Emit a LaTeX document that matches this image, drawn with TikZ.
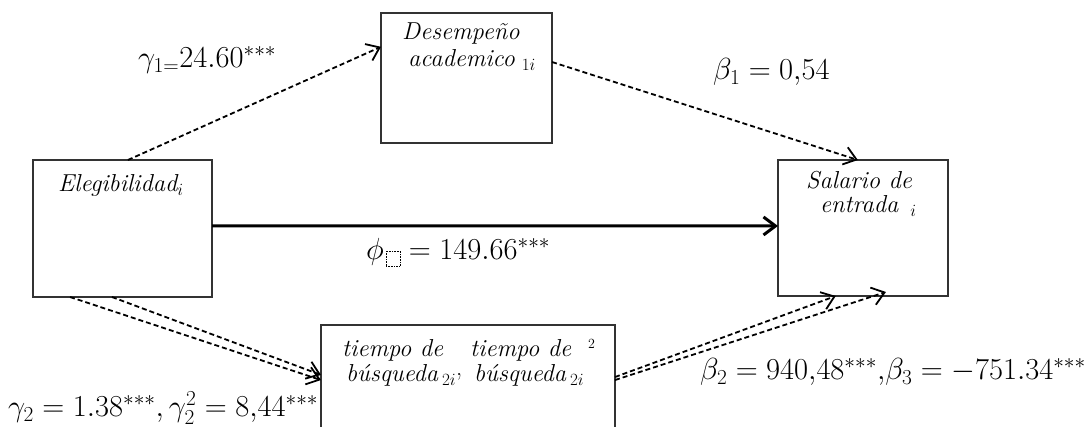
\RequirePackage{fix-cm}
\documentclass[tikz,border=0pt]{standalone}
\usepackage{amsmath}
\usetikzlibrary{arrows.meta,calc}
\tikzset{
 box/.style={draw=black!80, line width=1.6pt, rectangle, inner sep=0pt, outer sep=0pt, anchor=north west},
 lbl/.style={font=\fontsize{30.5}{36}\selectfont, anchor=base west, inner sep=0pt},
 btxt/.style={font=\fontsize{24.5}{28}\selectfont\itshape, anchor=base west, inner sep=0pt},
 barb/.style={-{Straight Barb[length=12pt,width=18pt]}},
 dasharrow/.style={barb, line width=1.8pt, dash pattern=on 5pt off 3pt},
 solidarrow/.style={barb, line width=3pt},
}
\begin{document}
\begin{tikzpicture}[x=1pt,y=-1pt]
\useasboundingbox (0,0) rectangle (1087,427);
% boxes
\node[box, minimum width=179pt, minimum height=137pt] (eleg) at (33,160) {};
\node[box, minimum width=171pt, minimum height=130pt] (des) at (381,13) {};
\node[box, minimum width=170pt, minimum height=136pt] (sal) at (778,160) {};
\node[box, minimum width=294pt, minimum height=150pt] (tiem) at (321,325) {};
% box texts
\node[btxt] (elegT) at (58,192) {Elegibilidad$_{i}$};
\node[btxt] (desT1) at (402,40) {Desempeño};
\node[btxt] (desT2) at (408,67) {academico\hspace{7pt}$_{1i}$};
\node[btxt] (salT1) at (806,189) {Salario de};
\node[btxt] (salT2) at (820,213) {entrada\hspace{12pt}$_{i}$};
\node[btxt] (tiT1) at (342,357) {tiempo de};
\node[btxt] (tiT2) at (346,382) {búsqueda\hspace{4pt}$_{2i}$\raisebox{6pt}{\upshape,}};
\node[btxt] (tiT3) at (470,357) {tiempo de};
\node[btxt] (tiT4) at (474,382) {búsqueda\hspace{4pt}$_{2i}$};
\node[anchor=base west, inner sep=0pt, font=\fontsize{14}{16}\selectfont] (tiT5) at (588,349) {2};
% connectors
\draw[dasharrow] ($(eleg.north west)!.53!(eleg.north east)$) -- ($(des.north west)!.26!(des.south west)$);
\draw[dasharrow] ($(des.north east)!.377!(des.south east)$) -- ($(sal.north west)!.47!(sal.north east)$);
\draw[solidarrow] ($(eleg.north east)!.48!(eleg.south east)$) -- ($(sal.north west)!.485!(sal.south west)$);
\draw[dasharrow] ($(eleg.south west)!.207!(eleg.south east)$) -- ($(tiem.north west)!.367!(tiem.south west)$);
\draw[dasharrow] ($(eleg.south west)!.441!(eleg.south east)$) -- ($(tiem.north west)!.333!(tiem.south west)$);
\draw[dasharrow] ($(tiem.north east)!.347!(tiem.south east)$) -- ($(sal.south west)!.34!(sal.south east)$);
\draw[dasharrow] ($(tiem.north east)!.367!(tiem.south east)$) -- ($(sal.south west)!.635!(sal.south east)+(0,-4)$);
% labels
\node[lbl] (g1) at (138,68) {$\gamma_{1=}24.60^{***}$};
\node[lbl] (b1) at (713,80) {$\beta_1 = 0{,}54$};
\node[lbl] (phi) at (366,260) {$\phi\hbox{\hspace{2pt}\tikz[baseline=6pt,x=1pt,y=1pt]\draw[densely dotted,line width=0.6pt] (0,0) rectangle (14,15);} = 149.66^{***}$};
\node[lbl] (g2) at (8,417) {$\gamma_2 = 1.38^{***}, \gamma_2^2 = 8{,}44^{***}$};
\node[lbl] (b2) at (700,380) {$\beta_2 = 940{,}48^{***}{,}\beta_3 = -751.34^{***}$};
\end{tikzpicture}
\end{document}
